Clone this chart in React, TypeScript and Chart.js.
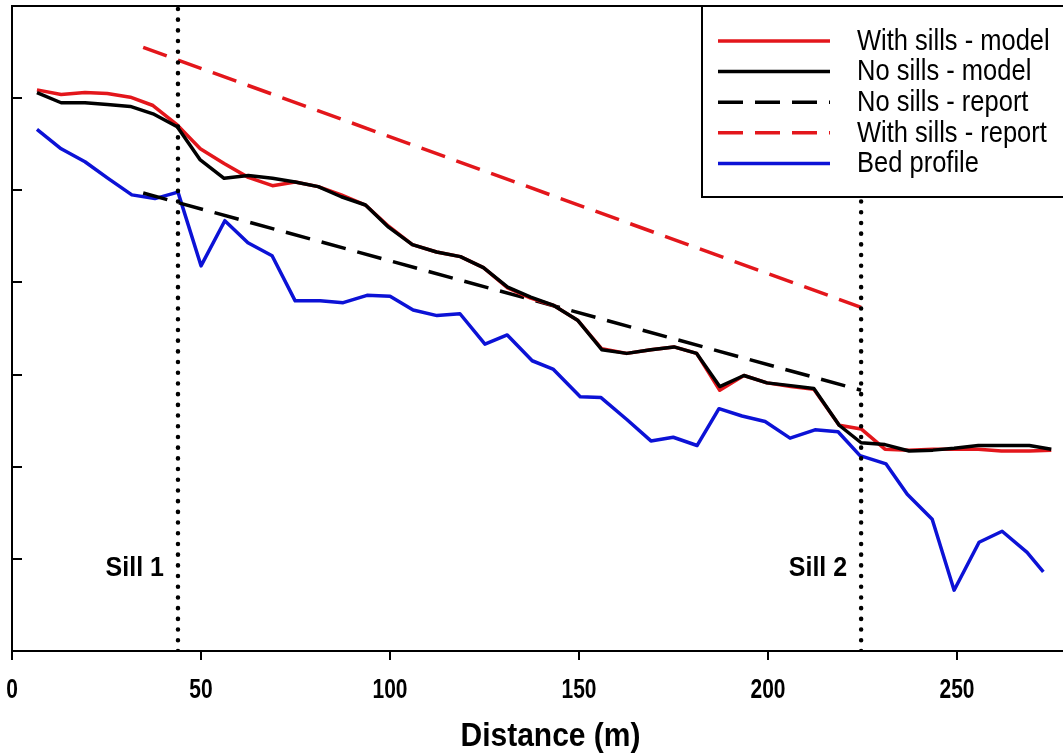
import React, { useEffect, useRef } from "react";
import { Chart, registerables } from "chart.js";
Chart.register(...registerables);

// ---- data ----
const modelDistance = [6.6, 13.0, 19.3, 25.2, 31.3, 37.3, 43.7, 49.8, 56.1, 62.5, 68.9, 74.9, 81.0, 87.1, 93.5, 99.6, 105.9, 112.3, 118.6, 124.7, 131.1, 137.2, 143.3, 149.6, 156.0, 162.6, 169.0, 175.1, 181.1, 187.2, 193.6, 199.7, 206.0, 212.1, 218.8, 224.6, 230.9, 237.3, 243.6, 249.2, 255.6, 261.7, 269.1, 274.9];
const withSillsModel = [6.09, 6.04, 6.06, 6.05, 6.01, 5.92, 5.71, 5.45, 5.29, 5.14, 5.05, 5.09, 5.04, 4.95, 4.84, 4.61, 4.41, 4.33, 4.28, 4.16, 3.94, 3.83, 3.75, 3.59, 3.28, 3.23, 3.27, 3.30, 3.23, 2.83, 2.99, 2.91, 2.87, 2.84, 2.45, 2.41, 2.19, 2.18, 2.19, 2.19, 2.19, 2.17, 2.17, 2.18];
const noSillsModel = [6.06, 5.95, 5.95, 5.93, 5.91, 5.83, 5.69, 5.33, 5.13, 5.16, 5.13, 5.09, 5.04, 4.93, 4.84, 4.60, 4.41, 4.33, 4.28, 4.16, 3.95, 3.84, 3.75, 3.59, 3.27, 3.23, 3.27, 3.30, 3.23, 2.87, 2.99, 2.91, 2.88, 2.85, 2.45, 2.26, 2.24, 2.17, 2.18, 2.20, 2.23, 2.23, 2.23, 2.19];
const bedDistance = [6.6, 13.0, 19.3, 25.4, 31.7, 37.8, 43.9, 50.0, 56.3, 62.4, 68.8, 74.9, 81.5, 87.6, 93.9, 100.0, 106.1, 112.4, 118.5, 125.1, 131.0, 137.6, 143.1, 150.3, 155.8, 162.7, 169.0, 174.9, 181.2, 187.0, 193.1, 199.2, 205.8, 212.4, 218.5, 224.3, 231.2, 236.8, 243.4, 249.2, 255.8, 261.9, 268.5, 272.8];
const bedProfile = [5.66, 5.45, 5.31, 5.13, 4.95, 4.91, 4.98, 4.18, 4.67, 4.43, 4.29, 3.80, 3.80, 3.78, 3.86, 3.85, 3.70, 3.64, 3.66, 3.33, 3.43, 3.15, 3.06, 2.76, 2.75, 2.51, 2.28, 2.32, 2.23, 2.63, 2.55, 2.49, 2.31, 2.40, 2.38, 2.12, 2.03, 1.70, 1.43, 0.66, 1.18, 1.30, 1.07, 0.86];
const reportDistance = [34.7, 224.6];
const noSillsReport = [4.97, 2.83];
const withSillsReport = [6.55, 3.73];
const sillDistance = [43.9, 224.6];
const sillLabels = ["Sill 1", "Sill 2"];
const xTicks = [0, 50, 100, 150, 200, 250];
const xTickLabels = ["0", "50", "100", "150", "200", "250"];
const yTicks = [1, 2, 3, 4, 5, 6];
const xMin = 0;
const xMax = 278;
const yMin = 0;
const yMax = 7;

const RED = "#e3161b";
const BLACK = "#000000";
const BLUE = "#0c12d6";

const legendItems = [
  { label: "With sills - model", color: RED, dash: [] as number[] },
  { label: "No sills - model", color: BLACK, dash: [] as number[] },
  { label: "No sills - report", color: BLACK, dash: [25, 12] },
  { label: "With sills - report", color: RED, dash: [25, 12] },
  { label: "Bed profile", color: BLUE, dash: [] as number[] },
];

const pts = (xs: number[], ys: number[]) => xs.map((x, i) => ({ x, y: ys[i] }));

function drawText(ctx: CanvasRenderingContext2D, s: string, x: number, y: number, font: string, align: CanvasTextAlign, sy: number) {
  ctx.save();
  ctx.translate(x, y);
  ctx.scale(1, sy);
  ctx.font = font;
  ctx.textAlign = align;
  ctx.textBaseline = "middle";
  ctx.fillStyle = "#000";
  ctx.fillText(s, 0, 0);
  ctx.restore();
}

const decorPlugin = {
  id: "decor",
  afterDraw(chart: any) {
    const ctx: CanvasRenderingContext2D = chart.ctx;
    const { left, right, top, bottom } = chart.chartArea;
    const xs = chart.scales.x;
    const ys = chart.scales.y;
    ctx.save();
    ctx.strokeStyle = "#000";
    ctx.lineWidth = 2;
    ctx.setLineDash([]);
    // frame: left, bottom, top
    ctx.beginPath();
    ctx.moveTo(right + 5, top);
    ctx.lineTo(left, top);
    ctx.lineTo(left, bottom);
    ctx.lineTo(right + 5, bottom);
    ctx.stroke();
    // y ticks (inward)
    yTicks.forEach((v) => {
      const py = Math.round(ys.getPixelForValue(v));
      ctx.beginPath();
      ctx.moveTo(left, py);
      ctx.lineTo(left + 10, py);
      ctx.stroke();
    });
    // x ticks (outward) and labels
    xTicks.forEach((v, i) => {
      const px = Math.round(xs.getPixelForValue(v));
      ctx.beginPath();
      ctx.moveTo(px, bottom);
      ctx.lineTo(px, bottom + 9);
      ctx.stroke();
      drawText(ctx, xTickLabels[i], px, bottom + 40, "bold 21px 'Liberation Sans', Arial, sans-serif", "center", 1.28);
    });
    drawText(ctx, "Distance (m)", (left + right) / 2 + 13, bottom + 86, "bold 30px 'Liberation Sans', Arial, sans-serif", "center", 1.12);
    // sill labels
    sillDistance.forEach((d, i) => {
      const px = xs.getPixelForValue(d);
      drawText(ctx, sillLabels[i], px - 14, ys.getPixelForValue(0.9), "bold 25px 'Liberation Sans', Arial, sans-serif", "right", 1.1);
    });
    // legend box
    const lx = 702, ly = top, lb = 197;
    ctx.fillStyle = "#fff";
    ctx.fillRect(lx, ly, right + 5 - lx, lb - ly);
    ctx.beginPath();
    ctx.moveTo(lx, ly);
    ctx.lineTo(lx, lb);
    ctx.lineTo(right + 5, lb);
    ctx.moveTo(lx, ly);
    ctx.lineTo(right + 5, ly);
    ctx.stroke();
    legendItems.forEach((it, i) => {
      const ry = 41 + i * 30.6;
      ctx.save();
      ctx.strokeStyle = it.color;
      ctx.lineWidth = 3.5;
      ctx.setLineDash(it.dash);
      ctx.beginPath();
      ctx.moveTo(718, ry);
      ctx.lineTo(830, ry);
      ctx.stroke();
      ctx.restore();
      drawText(ctx, it.label, 857, ry + 1, "25.5px 'Liberation Sans', Arial, sans-serif", "left", 1.12);
    });
    ctx.restore();
  },
};

export default function App() {
  const ref = useRef<HTMLCanvasElement | null>(null);
  useEffect(() => {
    document.body.style.margin = "0";
    if (!ref.current) return;
    const sillDatasets = sillDistance.map((d) => ({
      label: "sill",
      data: [{ x: d, y: yMin }, { x: d, y: yMax }],
      borderColor: BLACK,
      borderWidth: 4.5,
      borderDash: [0.1, 10.6],
      borderCapStyle: "round" as const,
      pointRadius: 0,
      order: 0,
    }));
    const chart = new Chart(ref.current, {
      type: "line",
      data: {
        datasets: [
          { label: "No sills - model", data: pts(modelDistance, noSillsModel), borderColor: BLACK, borderWidth: 3.5, pointRadius: 0, order: 1 },
          { label: "With sills - model", data: pts(modelDistance, withSillsModel), borderColor: RED, borderWidth: 3.5, pointRadius: 0, order: 2 },
          { label: "No sills - report", data: pts(reportDistance, noSillsReport), borderColor: BLACK, borderWidth: 3.5, borderDash: [25, 12], pointRadius: 0, order: 3 },
          { label: "With sills - report", data: pts(reportDistance, withSillsReport), borderColor: RED, borderWidth: 3.5, borderDash: [25, 12], pointRadius: 0, order: 3 },
          { label: "Bed profile", data: pts(bedDistance, bedProfile), borderColor: BLUE, borderWidth: 3.5, pointRadius: 0, order: 4 },
          ...sillDatasets,
        ] as any,
      },
      options: {
        animation: false,
        responsive: false,
        devicePixelRatio: 1,
        layout: { padding: { left: 12, top: 6, right: 0, bottom: 104 } },
        elements: { line: { tension: 0, borderJoinStyle: "round" } },
        scales: {
          x: { type: "linear", min: xMin, max: xMax, display: false },
          y: { type: "linear", min: yMin, max: yMax, display: false },
        },
        plugins: { legend: { display: false }, tooltip: { enabled: false } },
      },
      plugins: [decorPlugin],
    });
    return () => chart.destroy();
  }, []);
  return (
    <div style={{ width: 1063, height: 755, background: "#fff" }}>
      <canvas ref={ref} width={1063} height={755} style={{ display: "block" }} />
    </div>
  );
}
